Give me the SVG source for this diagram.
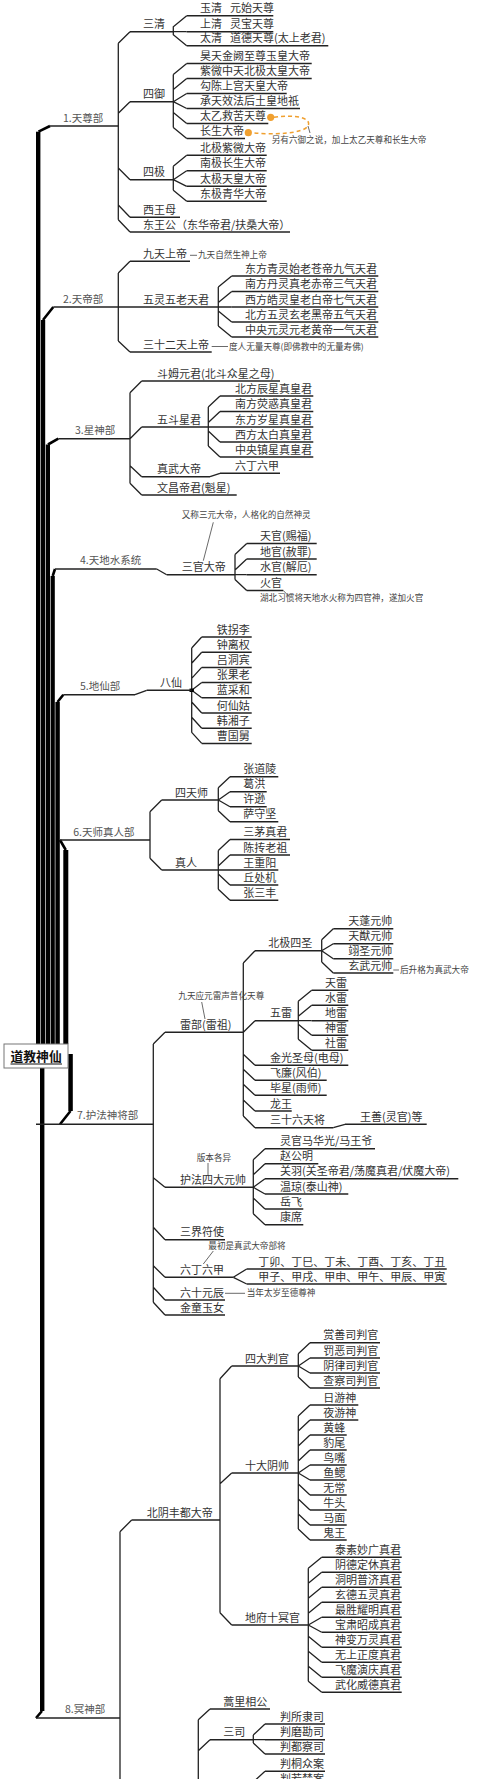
<svg xmlns="http://www.w3.org/2000/svg" width="480" height="1779" viewBox="0 0 480 1779">
<style>
text{font-family:"Noto Sans CJK SC","Noto Sans",sans-serif;font-size:11px;fill:#333}
.n{font-size:8.6px;fill:#444}
.l1{fill:#555;font-size:10.5px}
.u{stroke:#222;stroke-width:1.5;fill:none}
.c{stroke:#222;stroke-width:1.3;fill:none}
.th{stroke:#444;stroke-width:0.8;fill:none}
.bar{fill:#000}
.bd{stroke:#000;stroke-width:2.6;fill:none}
</style>
<rect width="480" height="1779" fill="#fff"/>

<g id="root-bars">
<rect class="bar" x="36" y="131.7" width="4.4" height="912.3"/>
<rect class="bar" x="41" y="320" width="4.2" height="724"/>
<rect class="bar" x="45.8" y="444.5" width="4.2" height="599.5"/>
<rect class="bar" x="50.6" y="576" width="4.2" height="468"/>
<rect class="bar" x="55.4" y="702" width="4.4" height="342"/>
<rect class="bar" x="63.3" y="850" width="5" height="194"/>
<rect class="bar" x="68.3" y="1054" width="4.5" height="57"/>
<rect class="bar" x="40" y="1068" width="4.4" height="643"/>
<path class="bd" d="M38.5,131.7 L50,126 M43,320 L53.3,307 M48,444.5 L58.3,438.7 M52.7,576 L55,569 M57.5,702 L63.3,694.7 M60,840 L65.8,850 M70.5,1111 L60,1124.3 M42,1711 L36,1718"/>
</g>

<g id="connectors">
<path class="c" d="M118.3,43.3 V219.7 M118.3,43.3 L130,31.7 M118.3,113.3 L130,101.7 M118.3,168 L130,179.7 M118.3,205 L130,217.3 M118.3,219.7 L130,232"/>
<path class="c" d="M173.3,31.7 V26.7 L186.7,15.7 M173.3,31.7 H186.7 M173.3,31.7 V34.7 L186.7,45.7"/>
<path class="c" d="M173.3,74.5 V127.5 M173.3,74.5 L186.7,63.5 M173.3,89.5 L186.7,78.5 M173.3,101.7 L186.7,93.5 M173.3,101.7 L186.7,108.5 M173.3,112.5 L186.7,123.5 M173.3,127.5 L186.7,138.5"/>
<path class="c" d="M173.3,166.3 V190.3 M173.3,166.3 L186.7,155.3 M173.3,179.7 L186.7,170.7 M173.3,179.7 L186.7,186.3 M173.3,190.3 L186.7,201.3"/>
<path class="c" d="M118.3,273 V341 M118.3,273 L130,261.3 M118.3,307 H130 M118.3,341 L130,352"/>
<path class="c" d="M218.3,287 V326 M218.3,287 L231.7,276 M218.3,302.5 L231.7,291.5 M218.3,307 H231.7 M218.3,311 L231.7,322 M218.3,326 L231.7,337"/>
<path class="c" d="M130,392.7 V483.3 M130,392.7 L141.7,381 M130,438.7 L141.7,427 M130,465.7 L141.7,476.7 M130,483.3 L141.7,495"/>
<path class="c" d="M208.3,407 V446 M208.3,407 L220,396 M208.3,422.5 L220,411.5 M208.3,427 H220 M208.3,431 L220,442 M208.3,446 L220,457"/>
<path class="c" d="M210,476.7 L220,473.3"/>
<path class="c" d="M156.7,569 L166.7,574.7"/>
<path class="c" d="M235,554.5 V579.5 M235,554.5 L246.7,543.5 M235,570 L246.7,559 M235,574.7 H246.7 M235,579.5 L246.7,590.5"/>
<path class="th" d="M283.3,590.5 L289,596.5 M213.3,522.3 L203.3,560.7"/>
<path class="c" d="M135,694.7 L146.7,690.3"/>
<path class="c" d="M191.7,648 V732.4 M191.7,648 L201.7,637 M191.7,663.2 L201.7,652.2 M191.7,678.4 L201.7,667.4 M191.7,690.3 L201.7,682.6 M191.7,690.3 L201.7,697.8 M191.7,702 L201.7,713 M191.7,717.2 L201.7,728.2 M191.7,732.4 L201.7,743.4"/>
<rect x="189.5" y="688.6" width="4.4" height="3.4" fill="#000"/>
<path class="c" d="M150,811.7 V858.3 M150,811.7 L161.7,800 M150,858.3 L161.7,870"/>
<path class="c" d="M218.3,787.7 V810.7 M218.3,787.7 L230,776.7 M218.3,800 L230,791.7 M218.3,800 L230,806.7 M218.3,810.7 L230,821.7"/>
<path class="c" d="M218.3,850.5 V889.3 M218.3,850.5 L230,839.5 M218.3,866 L230,855 M218.3,870 H230 M218.3,874 L230,885 M218.3,889.3 L230,900.3"/>
<path class="c" d="M153.3,1044 V1302.3 M153.3,1044 L165,1032.3 M153.3,1177.7 L165,1187.3 M153.3,1227.3 L165,1239.7 M153.3,1265.7 L165,1277.3 M153.3,1287.3 L165,1300 M153.3,1302.3 L165,1315"/>
<path class="c" d="M243.3,963 V1116 M243.3,963 L255,950.7 M243.3,1032.3 L255,1020.7 M243.3,1054.3 L255,1065.3 M243.3,1069.3 L255,1080.3 M243.3,1084.3 L255,1095.3 M243.3,1100 L255,1111 M243.3,1116 L255,1127.7"/>
<path class="c" d="M321.7,939.7 V962 M321.7,939.7 L333.3,928.7 M321.7,950.7 L333.3,943.7 M321.7,950.7 L333.3,958.7 M321.7,962 L333.3,973"/>
<path class="c" d="M298.3,1001.3 V1039.3 M298.3,1001.3 L311.7,990.3 M298.3,1016.3 L311.7,1005.3 M298.3,1020.7 H311.7 M298.3,1024.3 L311.7,1035.3 M298.3,1039.3 L311.7,1050.3"/>
<path class="c" d="M333.3,1127.7 L345,1124.3"/>
<path class="c" d="M253.3,1159.7 V1213.7 M253.3,1159.7 L265,1148.7 M253.3,1174.7 L265,1163.7 M253.3,1187.3 L265,1178.7 M253.3,1187.3 L265,1194 M253.3,1198 L265,1209 M253.3,1213.7 L265,1224.7"/>
<path class="c" d="M233.3,1277.3 L246.7,1269 M233.3,1277.3 L246.7,1284"/>
<path class="th" d="M201.7,1002 L205,1019 M208,1163 V1176 M213.3,1251 L203.3,1264 M393.3,970 H399 M190,255.3 H197 M211.7,346.5 H228 M225,1293.3 H245"/>
<path class="c" d="M120,1531.7 V1779 M120,1531.7 L131.7,1520"/>
<path class="c" d="M220,1378.7 V1612.7 M220,1378.7 L231.7,1366 M220,1483.7 L231.7,1473 M220,1612.7 L231.7,1625"/>
<path class="c" d="M298.3,1353.7 V1377 M298.3,1353.7 L310,1342.7 M298.3,1366 L310,1358 M298.3,1366 L310,1373 M298.3,1377 L310,1388"/>
<path class="c" d="M298.3,1416 V1529 M298.3,1416 L310,1405 M298.3,1431 L310,1420 M298.3,1446 L310,1435 M298.3,1461 L310,1450 M298.3,1473 L310,1465 M298.3,1473 L310,1480 M298.3,1484 L310,1495 M298.3,1499 L310,1510 M298.3,1514 L310,1525 M298.3,1529 L310,1540"/>
<path class="c" d="M308.3,1568.3 V1681.3 M308.3,1568.3 L321.7,1557.3 M308.3,1583.3 L321.7,1572.3 M308.3,1598.3 L321.7,1587.3 M308.3,1613.3 L321.7,1602.3 M308.3,1625 L321.7,1617.3 M308.3,1625 L321.7,1632.3 M308.3,1636.3 L321.7,1647.3 M308.3,1651.3 L321.7,1662.3 M308.3,1666.3 L321.7,1677.3 M308.3,1681.3 L321.7,1692.3"/>
<path class="c" d="M198.3,1719.7 V1779 M198.3,1719.7 L210,1709 M198.3,1750.7 L210,1739.7"/>
<path class="c" d="M253.3,1735 V1743 M253.3,1735 L265,1724 M253.3,1739.7 H265 M253.3,1743 L265,1754 M253.3,1782 L265,1771.3"/>
</g>

<g id="root">
<rect x="4" y="1044" width="64" height="24" fill="#fff" stroke="#777" stroke-width="1"/>
<text x="10.5" y="1061" style="font-size:12.8px;fill:#111;font-weight:bold">道教神仙</text>
<path d="M10.5,1064 H62" stroke="#111" stroke-width="1"/>
</g>

<g id="b1"><path class="u" d="M50,126 H118.3"/><text class="l1" x="63" y="122">1.天尊部</text></g>
<g id="b1-sanqing"><path class="u" d="M130,31.7 H173.3"/><text x="143" y="28.2">三清</text></g>
<g id="b1-yuqing"><path class="u" d="M186.7,15.7 H273.3"/><text x="200" y="12.2">玉清<tspan dx="8">元始天尊</tspan></text></g>
<g id="b1-shangqing"><path class="u" d="M186.7,31.7 H273.3"/><text x="200" y="28.2">上清<tspan dx="8">灵宝天尊</tspan></text></g>
<g id="b1-taiqing"><path class="u" d="M186.7,45.7 H328.3"/><text x="200" y="42.2">太清<tspan dx="8">道德天尊(太上老君)</tspan></text></g>
<g id="b1-siyu"><path class="u" d="M130,101.7 H173.3"/><text x="143" y="98.2">四御</text></g>
<g id="b1-yu1"><path class="u" d="M186.7,63.5 H311.7"/><text x="200" y="60">昊天金阙至尊玉皇大帝</text></g>
<g id="b1-yu2"><path class="u" d="M186.7,78.5 H311.7"/><text x="200" y="75">紫微中天北极太皇大帝</text></g>
<g id="b1-yu3"><path class="u" d="M186.7,93.5 H286.7"/><text x="200" y="90">勾陈上宫天皇大帝</text></g>
<g id="b1-yu4"><path class="u" d="M186.7,108.5 H300"/><text x="200" y="105">承天效法后土皇地祇</text></g>
<g id="b1-yu5"><path class="u" d="M186.7,123.5 H268.3"/><text x="200" y="120">太乙救苦天尊</text></g>
<g id="b1-yu6"><path class="u" d="M186.7,138.5 H245"/><text x="200" y="135">长生大帝</text></g>
<g id="note-liuyu">
<path d="M274,117.3 C296,114 312,118 308,126 C303,134 272,135 251.5,132.7" stroke="#f0a030" stroke-width="1.5" fill="none" stroke-dasharray="4 3"/>
<circle cx="270.7" cy="117.3" r="3.6" fill="#f0a030"/>
<circle cx="248.3" cy="132.7" r="3.6" fill="#f0a030"/>
<path class="th" d="M308,126 L310,133"/>
<text class="n" x="271.7" y="142.7">另有六御之说，加上太乙天尊和长生大帝</text>
</g>
<g id="b1-siji"><path class="u" d="M130,179.7 H173.3"/><text x="143" y="176.2">四极</text></g>
<g id="b1-ji1"><path class="u" d="M186.7,155.3 H266.7"/><text x="200" y="151.8">北极紫微大帝</text></g>
<g id="b1-ji2"><path class="u" d="M186.7,170.7 H266.7"/><text x="200" y="167.2">南极长生大帝</text></g>
<g id="b1-ji3"><path class="u" d="M186.7,186.3 H266.7"/><text x="200" y="182.8">太极天皇大帝</text></g>
<g id="b1-ji4"><path class="u" d="M186.7,201.3 H266.7"/><text x="200" y="197.8">东极青华大帝</text></g>
<g id="b1-xiwangmu"><path class="u" d="M130,217.3 H180"/><text x="143" y="213.8">西王母</text></g>
<g id="b1-dongwanggong"><path class="u" d="M130,232 H290"/><text x="143" y="228.5">东王公（东华帝君/扶桑大帝）</text></g>

<g id="b2"><path class="u" d="M53.3,307 H118.3"/><text class="l1" x="63" y="303">2.天帝部</text></g>
<g id="b2-jiutian"><path class="u" d="M130,261.3 H190"/><text x="143" y="257.8">九天上帝</text><text class="n" x="198" y="258.3">九天自然生神上帝</text></g>
<g id="b2-wuling"><path class="u" d="M130,307 H218.3"/><text x="143" y="303.5">五灵五老天君</text></g>
<g id="b2-w1"><path class="u" d="M231.7,276 H378.3"/><text x="245" y="272.5">东方青灵始老苍帝九气天君</text></g>
<g id="b2-w2"><path class="u" d="M231.7,291.5 H378.3"/><text x="245" y="288">南方丹灵真老赤帝三气天君</text></g>
<g id="b2-w3"><path class="u" d="M231.7,307 H378.3"/><text x="245" y="303.5">西方皓灵皇老白帝七气天君</text></g>
<g id="b2-w4"><path class="u" d="M231.7,322 H378.3"/><text x="245" y="318.5">北方五灵玄老黑帝五气天君</text></g>
<g id="b2-w5"><path class="u" d="M231.7,337 H378.3"/><text x="245" y="333.5">中央元灵元老黄帝一气天君</text></g>
<g id="b2-32"><path class="u" d="M130,352 H211.7"/><text x="143" y="348.5">三十二天上帝</text><text class="n" x="229" y="349.5">度人无量天尊(即佛教中的无量寿佛)</text></g>

<g id="b3"><path class="u" d="M58.3,438.7 H130"/><text class="l1" x="75" y="433.5">3.星神部</text></g>
<g id="b3-doumu"><path class="u" d="M141.7,381 H280"/><text x="157" y="377.5">斗姆元君(北斗众星之母)</text></g>
<g id="b3-wudou"><path class="u" d="M141.7,427 H208.3"/><text x="157" y="423.5">五斗星君</text></g>
<g id="b3-d1"><path class="u" d="M220,396 H313.3"/><text x="235" y="392.5">北方辰星真皇君</text></g>
<g id="b3-d2"><path class="u" d="M220,411.5 H313.3"/><text x="235" y="408">南方荧惑真皇君</text></g>
<g id="b3-d3"><path class="u" d="M220,427 H313.3"/><text x="235" y="423.5">东方岁星真皇君</text></g>
<g id="b3-d4"><path class="u" d="M220,442 H313.3"/><text x="235" y="438.5">西方太白真皇君</text></g>
<g id="b3-d5"><path class="u" d="M220,457 H313.3"/><text x="235" y="453.5">中央镇星真皇君</text></g>
<g id="b3-zhenwu"><path class="u" d="M141.7,476.7 H210"/><text x="157" y="473.2">真武大帝</text></g>
<g id="b3-liuding"><path class="u" d="M220,473.3 H280"/><text x="235" y="469.8">六丁六甲</text></g>
<g id="b3-wenchang"><path class="u" d="M141.7,495 H236.7"/><text x="157" y="491.5">文昌帝君(魁星)</text></g>

<g id="b4"><path class="u" d="M55,569 H156.7"/><text class="l1" x="80" y="564">4.天地水系统</text></g>
<g id="b4-sanguan"><path class="u" d="M166.7,574.7 H235"/><text x="181.7" y="571.2">三官大帝</text><text class="n" x="181.7" y="518">又称三元大帝，人格化的自然神灵</text></g>
<g id="b4-g1"><path class="u" d="M246.7,543.5 H316.7"/><text x="260" y="540">天官(赐福)</text></g>
<g id="b4-g2"><path class="u" d="M246.7,559 H316.7"/><text x="260" y="555.5">地官(赦罪)</text></g>
<g id="b4-g3"><path class="u" d="M246.7,574.7 H316.7"/><text x="260" y="571.2">水官(解厄)</text></g>
<g id="b4-g4"><path class="u" d="M246.7,590.5 H283.3"/><text x="260" y="587">火官</text><text class="n" x="260" y="600.5">湖北习惯将天地水火称为四官神，遂加火官</text></g>

<g id="b5"><path class="u" d="M63.3,694.7 H135"/><text class="l1" x="80" y="689.5">5.地仙部</text></g>
<g id="b5-baxian"><path class="u" d="M146.7,690.3 H191.7"/><text x="160" y="686.8">八仙</text></g>
<g id="b5-x1"><path class="u" d="M201.7,637 H251.7"/><text x="216.7" y="633.5">铁拐李</text></g>
<g id="b5-x2"><path class="u" d="M201.7,652.2 H251.7"/><text x="216.7" y="648.7">钟离权</text></g>
<g id="b5-x3"><path class="u" d="M201.7,667.4 H251.7"/><text x="216.7" y="663.9">吕洞宾</text></g>
<g id="b5-x4"><path class="u" d="M201.7,682.6 H251.7"/><text x="216.7" y="679.1">张果老</text></g>
<g id="b5-x5"><path class="u" d="M201.7,697.8 H251.7"/><text x="216.7" y="694.3">蓝采和</text></g>
<g id="b5-x6"><path class="u" d="M201.7,713 H251.7"/><text x="216.7" y="709.5">何仙姑</text></g>
<g id="b5-x7"><path class="u" d="M201.7,728.2 H251.7"/><text x="216.7" y="724.7">韩湘子</text></g>
<g id="b5-x8"><path class="u" d="M201.7,743.4 H251.7"/><text x="216.7" y="739.9">曹国舅</text></g>

<g id="b6"><path class="u" d="M60,840 H150"/><text class="l1" x="73.3" y="836">6.天师真人部</text></g>
<g id="b6-sitianshi"><path class="u" d="M161.7,800 H218.3"/><text x="175" y="796.5">四天师</text></g>
<g id="b6-s1"><path class="u" d="M230,776.7 H278.3"/><text x="243.3" y="773.2">张道陵</text></g>
<g id="b6-s2"><path class="u" d="M230,791.7 H266.7"/><text x="243.3" y="788.2">葛洪</text></g>
<g id="b6-s3"><path class="u" d="M230,806.7 H266.7"/><text x="243.3" y="803.2">许逊</text></g>
<g id="b6-s4"><path class="u" d="M230,821.7 H278.3"/><text x="243.3" y="818.2">萨守坚</text></g>
<g id="b6-zhenren"><path class="u" d="M161.7,870 H218.3"/><text x="175" y="866.5">真人</text></g>
<g id="b6-z1"><path class="u" d="M230,839.5 H290"/><text x="243.3" y="836">三茅真君</text></g>
<g id="b6-z2"><path class="u" d="M230,855 H290"/><text x="243.3" y="851.5">陈抟老祖</text></g>
<g id="b6-z3"><path class="u" d="M230,870 H278.3"/><text x="243.3" y="866.5">王重阳</text></g>
<g id="b6-z4"><path class="u" d="M230,885 H278.3"/><text x="243.3" y="881.5">丘处机</text></g>
<g id="b6-z5"><path class="u" d="M230,900.3 H278.3"/><text x="243.3" y="896.8">张三丰</text></g>

<g id="b7"><path class="u" d="M36,1124.3 H153.3"/><text class="l1" x="77" y="1118.5">7.护法神将部</text></g>
<g id="b7-leibu"><path class="u" d="M165,1032.3 H243.3"/><text x="180" y="1028.8">雷部(雷祖)</text><text class="n" x="178.3" y="999">九天应元雷声普化天尊</text></g>
<g id="b7-beiji"><path class="u" d="M255,950.7 H321.7"/><text x="268.3" y="947.2">北极四圣</text></g>
<g id="b7-bj1"><path class="u" d="M333.3,928.7 H393.3"/><text x="348.3" y="925.2">天蓬元帅</text></g>
<g id="b7-bj2"><path class="u" d="M333.3,943.7 H393.3"/><text x="348.3" y="940.2">天猷元帅</text></g>
<g id="b7-bj3"><path class="u" d="M333.3,958.7 H393.3"/><text x="348.3" y="955.2">翊圣元帅</text></g>
<g id="b7-bj4"><path class="u" d="M333.3,973 H393.3"/><text x="348.3" y="969.5">玄武元帅</text><text class="n" x="400" y="973">后升格为真武大帝</text></g>
<g id="b7-wulei"><path class="u" d="M255,1020.7 H298.3"/><text x="270" y="1017.2">五雷</text></g>
<g id="b7-l1"><path class="u" d="M311.7,990.3 H348.3"/><text x="325" y="986.8">天雷</text></g>
<g id="b7-l2"><path class="u" d="M311.7,1005.3 H348.3"/><text x="325" y="1001.8">水雷</text></g>
<g id="b7-l3"><path class="u" d="M311.7,1020.7 H348.3"/><text x="325" y="1017.2">地雷</text></g>
<g id="b7-l4"><path class="u" d="M311.7,1035.3 H348.3"/><text x="325" y="1031.8">神雷</text></g>
<g id="b7-l5"><path class="u" d="M311.7,1050.3 H348.3"/><text x="325" y="1046.8">社雷</text></g>
<g id="b7-dianmu"><path class="u" d="M255,1065.3 H348.3"/><text x="270" y="1061.8">金光圣母(电母)</text></g>
<g id="b7-fengbo"><path class="u" d="M255,1080.3 H326.7"/><text x="270" y="1076.8">飞廉(风伯)</text></g>
<g id="b7-yushi"><path class="u" d="M255,1095.3 H326.7"/><text x="270" y="1091.8">毕星(雨师)</text></g>
<g id="b7-longwang"><path class="u" d="M255,1111 H291.7"/><text x="270" y="1107.5">龙王</text></g>
<g id="b7-36"><path class="u" d="M255,1127.7 H333.3"/><text x="270" y="1124.2">三十六天将</text></g>
<g id="b7-wangshan"><path class="u" d="M345,1124.3 H426.7"/><text x="360" y="1120.8">王善(灵官)等</text></g>
<g id="b7-sida"><path class="u" d="M165,1187.3 H253.3"/><text x="180" y="1183.8">护法四大元帅</text><text class="n" x="196.7" y="1161">版本各异</text></g>
<g id="b7-y1"><path class="u" d="M265,1148.7 H375"/><text x="280" y="1145.2">灵官马华光/马王爷</text></g>
<g id="b7-y2"><path class="u" d="M265,1163.7 H318.3"/><text x="280" y="1160.2">赵公明</text></g>
<g id="b7-y3"><path class="u" d="M265,1178.7 H458.3"/><text x="280" y="1175.2">关羽(关圣帝君/荡魔真君/伏魔大帝)</text></g>
<g id="b7-y4"><path class="u" d="M265,1194 H348.3"/><text x="280" y="1190.5">温琼(泰山神)</text></g>
<g id="b7-y5"><path class="u" d="M265,1209 H303.3"/><text x="280" y="1205.5">岳飞</text></g>
<g id="b7-y6"><path class="u" d="M265,1224.7 H303.3"/><text x="280" y="1221.2">康席</text></g>
<g id="b7-fushi"><path class="u" d="M165,1239.7 H225"/><text x="180" y="1236.2">三界符使</text><text class="n" x="208.3" y="1248.5">最初是真武大帝部将</text></g>
<g id="b7-liuding"><path class="u" d="M165,1277.3 H233.3"/><text x="180" y="1273.8">六丁六甲</text></g>
<g id="b7-ding"><path class="u" d="M246.7,1269 H446.7"/><text x="258.3" y="1265.5">丁卯、丁巳、丁未、丁酉、丁亥、丁丑</text></g>
<g id="b7-jia"><path class="u" d="M246.7,1284 H446.7"/><text x="258.3" y="1280.5">甲子、甲戌、甲申、甲午、甲辰、甲寅</text></g>
<g id="b7-liushi"><path class="u" d="M165,1300 H225"/><text x="180" y="1296.5">六十元辰</text><text class="n" x="246.7" y="1296.3">当年太岁至德尊神</text></g>
<g id="b7-jintong"><path class="u" d="M165,1315 H225"/><text x="180" y="1311.5">金童玉女</text></g>

<g id="b8"><path class="u" d="M36,1718 H120"/><text class="l1" x="65" y="1713">8.冥神部</text></g>
<g id="b8-fengdu"><path class="u" d="M131.7,1520 H220"/><text x="146.7" y="1516.5">北阴丰都大帝</text></g>
<g id="b8-panguan"><path class="u" d="M231.7,1366 H298.3"/><text x="245" y="1362.5">四大判官</text></g>
<g id="b8-p1"><path class="u" d="M310,1342.7 H380"/><text x="323.3" y="1339.2">赏善司判官</text></g>
<g id="b8-p2"><path class="u" d="M310,1358 H380"/><text x="323.3" y="1354.5">罚恶司判官</text></g>
<g id="b8-p3"><path class="u" d="M310,1373 H380"/><text x="323.3" y="1369.5">阴律司判官</text></g>
<g id="b8-p4"><path class="u" d="M310,1388 H380"/><text x="323.3" y="1384.5">查察司判官</text></g>
<g id="b8-yinshuai"><path class="u" d="M231.7,1473 H298.3"/><text x="245" y="1469.5">十大阴帅</text></g>
<g id="b8-s1"><path class="u" d="M310,1405 H358.3"/><text x="323.3" y="1401.5">日游神</text></g>
<g id="b8-s2"><path class="u" d="M310,1420 H358.3"/><text x="323.3" y="1416.5">夜游神</text></g>
<g id="b8-s3"><path class="u" d="M310,1435 H346.7"/><text x="323.3" y="1431.5">黄蜂</text></g>
<g id="b8-s4"><path class="u" d="M310,1450 H346.7"/><text x="323.3" y="1446.5">豹尾</text></g>
<g id="b8-s5"><path class="u" d="M310,1465 H346.7"/><text x="323.3" y="1461.5">鸟嘴</text></g>
<g id="b8-s6"><path class="u" d="M310,1480 H346.7"/><text x="323.3" y="1476.5">鱼鳃</text></g>
<g id="b8-s7"><path class="u" d="M310,1495 H346.7"/><text x="323.3" y="1491.5">无常</text></g>
<g id="b8-s8"><path class="u" d="M310,1510 H346.7"/><text x="323.3" y="1506.5">牛头</text></g>
<g id="b8-s9"><path class="u" d="M310,1525 H346.7"/><text x="323.3" y="1521.5">马面</text></g>
<g id="b8-s10"><path class="u" d="M310,1540 H346.7"/><text x="323.3" y="1536.5">鬼王</text></g>
<g id="b8-shiming"><path class="u" d="M231.7,1625 H308.3"/><text x="245" y="1621.5">地府十冥官</text></g>
<g id="b8-m1"><path class="u" d="M321.7,1557.3 H401.7"/><text x="335" y="1553.8">泰素妙广真君</text></g>
<g id="b8-m2"><path class="u" d="M321.7,1572.3 H401.7"/><text x="335" y="1568.8">阴德定休真君</text></g>
<g id="b8-m3"><path class="u" d="M321.7,1587.3 H401.7"/><text x="335" y="1583.8">洞明普济真君</text></g>
<g id="b8-m4"><path class="u" d="M321.7,1602.3 H401.7"/><text x="335" y="1598.8">玄德五灵真君</text></g>
<g id="b8-m5"><path class="u" d="M321.7,1617.3 H401.7"/><text x="335" y="1613.8">最胜耀明真君</text></g>
<g id="b8-m6"><path class="u" d="M321.7,1632.3 H401.7"/><text x="335" y="1628.8">宝肃昭成真君</text></g>
<g id="b8-m7"><path class="u" d="M321.7,1647.3 H401.7"/><text x="335" y="1643.8">神变万灵真君</text></g>
<g id="b8-m8"><path class="u" d="M321.7,1662.3 H401.7"/><text x="335" y="1658.8">无上正度真君</text></g>
<g id="b8-m9"><path class="u" d="M321.7,1677.3 H401.7"/><text x="335" y="1673.8">飞魔演庆真君</text></g>
<g id="b8-m10"><path class="u" d="M321.7,1692.3 H401.7"/><text x="335" y="1688.8">武化威德真君</text></g>
<g id="b8-haoli"><path class="u" d="M210,1709 H270"/><text x="223.3" y="1705.5">蒿里相公</text></g>
<g id="b8-sansi"><path class="u" d="M210,1739.7 H253.3"/><text x="223.3" y="1736.2">三司</text></g>
<g id="b8-ss1"><path class="u" d="M265,1724 H325"/><text x="280" y="1720.5">判所隶司</text></g>
<g id="b8-ss2"><path class="u" d="M265,1739.7 H325"/><text x="280" y="1736.2">判磨勘司</text></g>
<g id="b8-ss3"><path class="u" d="M265,1754 H325"/><text x="280" y="1750.5">判都察司</text></g>
<g id="b8-an1"><path class="u" d="M265,1771.3 H325"/><text x="280" y="1767.8">判桐众案</text></g>
<g id="b8-an2"><text x="280" y="1783">判若禁案</text></g>
</svg>
